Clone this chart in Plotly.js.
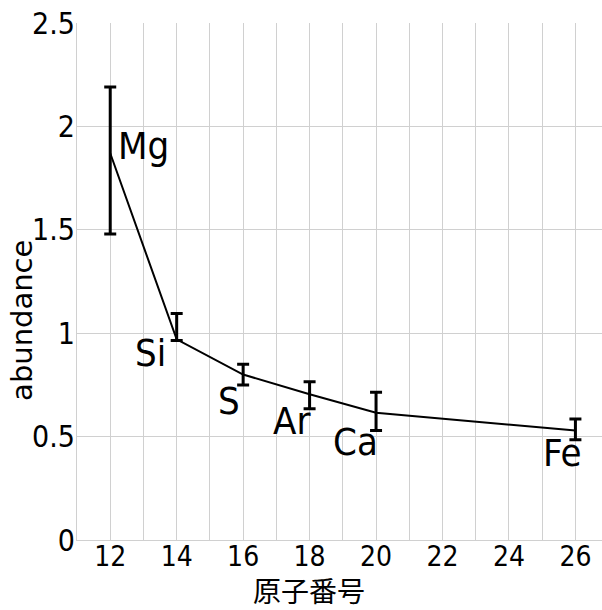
<!DOCTYPE html>
<html>
<head>
<meta charset="utf-8">
<script src="https://cdn.plot.ly/plotly-3.0.1.min.js"></script>
<style>
  html, body { margin: 0; padding: 0; background: #fff; }
  #chart { width: 602px; height: 610px; }
</style>
</head>
<body>
<div id="chart"></div>
<script>
// Atomic number, element and relative abundance with error ranges
const atomicNumber = [12, 14, 16, 18, 20, 26];
const element = ["Mg", "Si", "S", "Ar", "Ca", "Fe"];
const abundance = [1.87, 0.97, 0.80, 0.705, 0.615, 0.53];
const errPlus = [0.32, 0.125, 0.05, 0.06, 0.10, 0.055];
const errMinus = [0.39, 0.005, 0.05, 0.07, 0.085, 0.045];
const xTicks = [12, 14, 16, 18, 20, 22, 24, 26];
const yTicks = [0, 0.5, 1, 1.5, 2, 2.5];
const yTickText = ["0", "0.5", "1", "1.5", "2", "2.5"];

// label placement around each point: [xanchor, xshift, yshift]
const labelPlace = [
  ["left", 6, 7],
  ["right", -9, -14],
  ["right", -1, -26],
  ["right", 3, -27],
  ["right", 4, -29],
  ["right", 9, -23]
];

const narrow = "Liberation Sans Narrow, DejaVu Sans Condensed, Arial Narrow, sans-serif";
const gridColor = "#d0d0d0";

const trace = {
  x: atomicNumber,
  y: abundance,
  type: "scatter",
  mode: "lines",
  line: { color: "#000", width: 2 },
  error_y: {
    type: "data",
    symmetric: false,
    array: errPlus,
    arrayminus: errMinus,
    color: "#000",
    thickness: 3,
    width: 6
  },
  hoverinfo: "skip",
  showlegend: false
};

const labels = element.map((name, i) => ({
  x: atomicNumber[i],
  y: abundance[i],
  xref: "x",
  yref: "y",
  text: name,
  showarrow: false,
  xanchor: labelPlace[i][0],
  yanchor: "middle",
  xshift: labelPlace[i][1],
  yshift: labelPlace[i][2],
  font: { family: narrow, size: 38, color: "#000" }
}));

const titles = [
  {
    x: -0.105, y: 0.4255, xref: "paper", yref: "paper",
    text: "abundance", textangle: -90, showarrow: false,
    xanchor: "center", yanchor: "middle",
    font: { family: "DejaVu Sans, sans-serif", size: 29, color: "#000" }
  },
  {
    x: 0.442, y: -0.097, xref: "paper", yref: "paper",
    text: "原子番号", showarrow: false,
    xanchor: "center", yanchor: "middle",
    font: { family: "Noto Sans CJK JP, sans-serif", size: 28, color: "#000" }
  }
];

const layout = {
  width: 602,
  height: 610,
  margin: { l: 77, r: 0, t: 23, b: 70 },
  paper_bgcolor: "#fff",
  plot_bgcolor: "#fff",
  xaxis: {
    range: [11, 26.8],
    tickvals: xTicks,
    ticktext: xTicks.map(String),
    showgrid: true,
    gridcolor: gridColor,
    gridwidth: 1,
    minor: { dtick: 1, tick0: 11, showgrid: true, gridcolor: gridColor, gridwidth: 1 },
    showline: true,
    linecolor: gridColor,
    linewidth: 1,
    zeroline: false,
    ticks: "",
    ticklabelstandoff: -9,
    tickfont: { family: narrow, size: 28, color: "#000" }
  },
  yaxis: {
    range: [0, 2.5],
    tickvals: yTicks,
    ticktext: yTickText,
    showgrid: true,
    gridcolor: gridColor,
    gridwidth: 1,
    showline: true,
    linecolor: gridColor,
    linewidth: 1,
    zeroline: false,
    ticks: "",
    ticklabelstandoff: -5,
    tickfont: { family: narrow, size: 30, color: "#000" }
  },
  annotations: labels.concat(titles)
};

Plotly.newPlot("chart", [trace], layout, { staticPlot: true, displayModeBar: false });
</script>
</body>
</html>
